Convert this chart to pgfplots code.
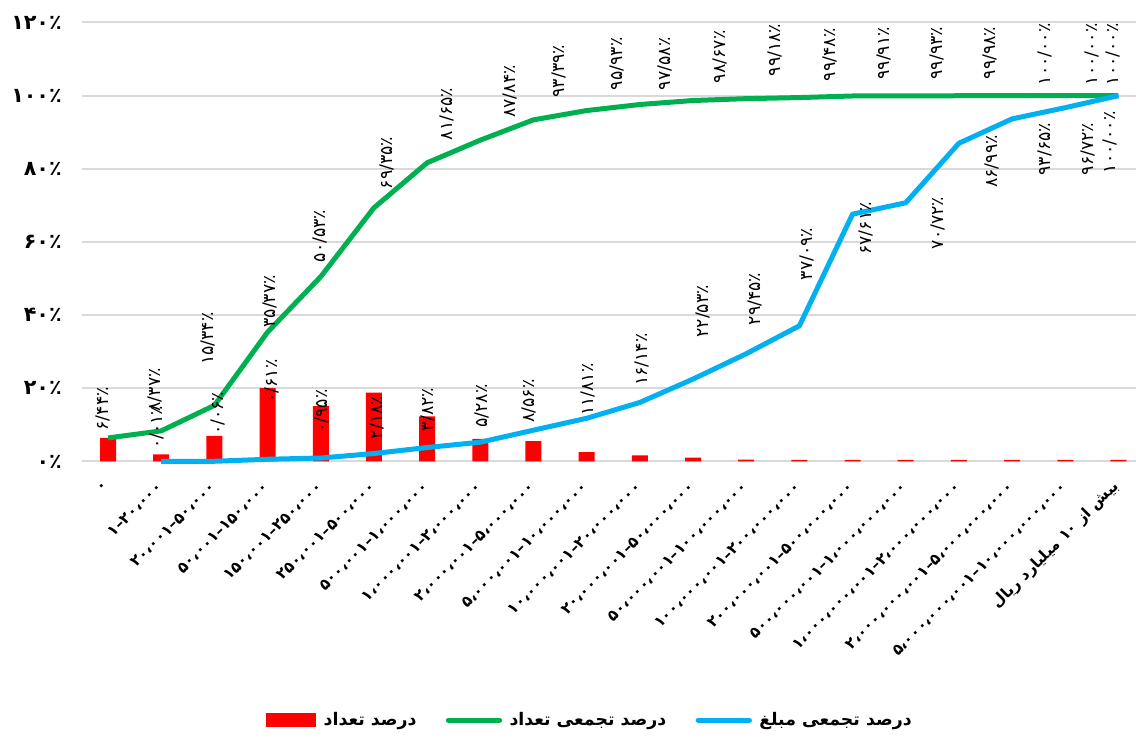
\documentclass[border=0pt]{standalone}
\usepackage{fontspec}
\usepackage{pgfplots}
\usepackage{pgfplotstable}
\pgfplotsset{compat=1.18}
\newfontfamily\arabicfont[Script=Arabic]{DejaVu Sans}
\newfontfamily\numfont{DejaVu Sans}
\TeXXeTstate=1
\definecolor{cred}{HTML}{FF0000}
\definecolor{cgreen}{HTML}{00B050}
\definecolor{cblue}{HTML}{00B0F0}
\definecolor{cgrid}{HTML}{D9D9D9}

\pgfplotstableread{
x y
0 6.44
1 1.93
2 6.97
3 20.03
4 15.16
5 18.82
6 12.30
7 6.19
8 5.55
9 2.54
10 1.65
11 1.09
12 0.51
13 0.45
14 0.45
15 0.45
16 0.45
17 0.45
18 0.45
19 0.45
}\bardata

\pgfplotstableread{
x y label dx dy
0 6.44 ۶/۴۴٪ -5 5
1 8.37 ۸/۳۷٪ -6 17
2 15.34 ۱۵/۳۴٪ -6 38
3 35.37 ۳۵/۳۷٪ 2 2
4 50.53 ۵۰/۵۳٪ -1 12
5 69.35 ۶۹/۳۵٪ 13 16
6 81.65 ۸۱/۶۵٪ 20 20
7 87.84 ۸۷/۸۴٪ 30 20
8 93.39 ۹۳/۳۹٪ 25 20
9 95.93 ۹۵/۹۳٪ 30 18
10 97.58 ۹۷/۵۸٪ 25 12
11 98.67 ۹۸/۶۷٪ 27 15
12 99.18 ۹۹/۱۸٪ 29 20
13 99.48 ۹۹/۴۸٪ 31 14
14 99.91 ۹۹/۹۱٪ 31 14
15 99.93 ۹۹/۹۳٪ 31 14
16 99.98 ۹۹/۹۸٪ 31 14
17 100.00 ۱۰۰/۰۰٪ 33 8
18 100.00 ۱۰۰/۰۰٪ 27 8
19 100.00 ۱۰۰/۰۰٪ -5 8
}\greendata

\pgfplotstableread{
x y label dx dy
1 0.01 ۰/۰۱٪ -4 10
2 0.06 ۰/۰۶٪ 4 24
3 0.61 ۰/۶۱٪ 4 54
4 0.95 ۰/۹۵٪ 1 23
5 2.18 ۲/۱۸٪ 3 12
6 3.82 ۳/۸۲٪ 1 14
7 5.28 ۵/۲۸٪ 2 12
8 8.56 ۸/۵۶٪ -5 5
9 11.81 ۱۱/۸۱٪ 1 0
10 16.14 ۱۶/۱۴٪ 2 14
11 22.53 ۲۲/۵۳٪ 10 39
12 29.45 ۲۹/۴۵٪ 9 26
13 37.09 ۳۷/۰۹٪ 8 43
14 67.61 ۶۷/۶۱٪ 13 -43
15 70.72 ۷۰/۷۲٪ 32 -49
16 86.99 ۸۶/۹۹٪ 33 -47
17 93.65 ۹۳/۶۵٪ 33 -59
18 96.72 ۹۶/۷۲٪ 23 -70
19 100.00 ۱۰۰/۰۰٪ -8 -80
}\bluedata

\begin{document}
\begin{tikzpicture}
\useasboundingbox (0,0) rectangle (852pt,556.5pt);
\begin{axis}[
  at={(61.5pt,210.375pt)}, anchor=south west,
  scale only axis, width=790.5pt, height=329.25pt,
  xmin=-0.49, xmax=19.33, ymin=0, ymax=120,
  axis line style={draw=none},
  major tick length=0pt,
  ytick={0,20,...,120},
  yticklabels={۰٪,۲۰٪,۴۰٪,۶۰٪,۸۰٪,۱۰۰٪,۱۲۰٪},
  ymajorgrids, major grid style={cgrid, line width=1.5pt},
  xtick={0,...,19},
  xticklabels={۰,
    ۱–۲۰،۰۰۰,
    ۲۰،۰۰۱–۵۰،۰۰۰,
    ۵۰،۰۰۱–۱۵۰،۰۰۰,
    ۱۵۰،۰۰۱–۲۵۰،۰۰۰,
    ۲۵۰،۰۰۱–۵۰۰،۰۰۰,
    ۵۰۰،۰۰۱–۱،۰۰۰،۰۰۰,
    ۱،۰۰۰،۰۰۱–۲،۰۰۰،۰۰۰,
    ۲،۰۰۰،۰۰۱–۵،۰۰۰،۰۰۰,
    ۵،۰۰۰،۰۰۱–۱۰،۰۰۰،۰۰۰,
    ۱۰،۰۰۰،۰۰۱–۲۰،۰۰۰،۰۰۰,
    ۲۰،۰۰۰،۰۰۱–۵۰،۰۰۰،۰۰۰,
    ۵۰،۰۰۰،۰۰۱–۱۰۰،۰۰۰،۰۰۰,
    ۱۰۰،۰۰۰،۰۰۱–۲۰۰،۰۰۰،۰۰۰,
    ۲۰۰،۰۰۰،۰۰۱–۵۰۰،۰۰۰،۰۰۰,
    ۵۰۰،۰۰۰،۰۰۱–۱،۰۰۰،۰۰۰،۰۰۰,
    ۱،۰۰۰،۰۰۰،۰۰۱–۲،۰۰۰،۰۰۰،۰۰۰,
    ۲،۰۰۰،۰۰۰،۰۰۱–۵،۰۰۰،۰۰۰،۰۰۰,
    ۵،۰۰۰،۰۰۰،۰۰۱–۱۰،۰۰۰،۰۰۰،۰۰۰,
    {\arabicfont\beginR بیش از \beginL۱۰\endL{} میلیارد ریال\endR}},
  xticklabel style={xshift=-1pt, yshift=-17pt, rotate=45, anchor=east, inner sep=0pt,
    font=\numfont\bfseries\fontsize{11.5}{11.5}\selectfont},
  yticklabel style={anchor=east, inner sep=0pt, xshift=-15pt,
    font=\numfont\bfseries\fontsize{15.5}{15.5}\selectfont},
  clip=false,
  legend columns=3,
  legend style={draw=none, fill=none, at={(0.482,-0.589)}, anchor=center,
    font=\arabicfont\bfseries\fontsize{13}{15}\selectfont,
    /tikz/every odd column/.append style={column sep=3.5pt},
    /tikz/every even column/.append style={column sep=20pt}},
]
\addplot[ybar, bar width=12pt, fill=cred, draw=none,
  legend image code/.code={\fill[cred] (0pt,-5.5pt) rectangle (38pt,5.5pt);}]
  table[x=x,y=y] {\bardata};
\addlegendentry{\beginR درصد تعداد\endR}

\addplot[cgreen, line width=3.75pt, line join=round, mark=none,
  legend image code/.code={\draw[cgreen, line width=3.75pt, line cap=round] (1.5pt,0pt) -- (40pt,0pt);},
  nodes near coords, point meta=explicit symbolic,
  visualization depends on={\thisrow{dx} \as \dx},
  visualization depends on={\thisrow{dy} \as \dy},
  nodes near coords style={xshift=\dx*0.75pt, yshift=\dy*0.75pt, rotate=90, anchor=west,
    inner sep=0pt, text=black, font=\numfont\fontsize{13}{13}\selectfont}]
  table[x=x,y=y,meta=label] {\greendata};
\addlegendentry{\beginR درصد تجمعی تعداد\endR}

\addplot[cblue, line width=3.75pt, line join=round, mark=none,
  legend image code/.code={\draw[cblue, line width=3.75pt, line cap=round] (1.5pt,0pt) -- (40pt,0pt);},
  nodes near coords, point meta=explicit symbolic,
  visualization depends on={\thisrow{dx} \as \dx},
  visualization depends on={\thisrow{dy} \as \dy},
  nodes near coords style={xshift=\dx*0.75pt, yshift=\dy*0.75pt, rotate=90, anchor=west,
    inner sep=0pt, text=black, font=\numfont\fontsize{13}{13}\selectfont}]
  table[x=x,y=y,meta=label] {\bluedata};
\addlegendentry{\beginR درصد تجمعی مبلغ\endR}
\end{axis}
\end{tikzpicture}
\end{document}
